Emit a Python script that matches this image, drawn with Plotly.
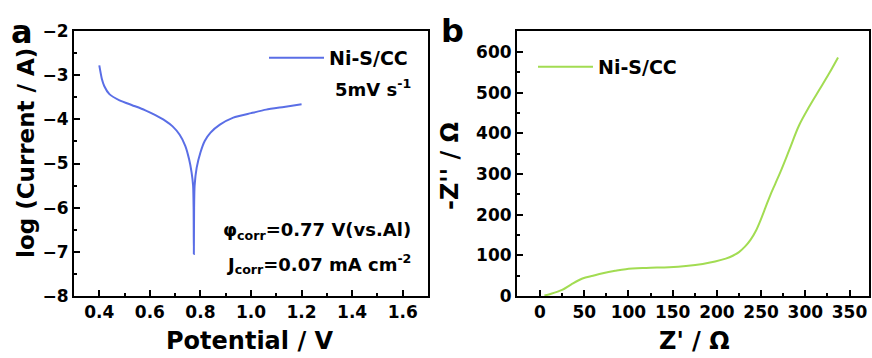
import plotly.graph_objects as go

W, H = 872, 358

# ---- data panel a (Tafel) ----
potential = [0.40, 0.41, 0.42, 0.44, 0.48, 0.53, 0.58, 0.62, 0.66, 0.69, 0.718,
             0.74, 0.755, 0.765, 0.771, 0.773, 0.774, 0.775, 0.777, 0.785, 0.80,
             0.817, 0.84, 0.877, 0.93, 1.00, 1.06, 1.13, 1.20]
log_current = [-2.78, -3.08, -3.25, -3.43, -3.57, -3.68, -3.79, -3.90, -4.03, -4.16, -4.35,
               -4.60, -4.90, -5.20, -5.50, -6.00, -7.05, -6.00, -5.50, -5.10, -4.75,
               -4.49, -4.30, -4.12, -3.96, -3.86, -3.78, -3.72, -3.66]

# ---- data panel b (Nyquist) ----
z_real = [5, 12, 25, 35, 48, 60, 71, 85, 97, 120, 146, 165, 184, 198, 210, 218,
          225, 232, 238, 244, 250, 255, 260, 266, 272, 282, 293, 305, 316, 327, 337]
z_imag = [1, 5, 15, 28, 43, 50, 56, 62, 66, 69, 71, 74, 79, 85, 92, 99,
          108, 122, 138, 160, 190, 218, 246, 276, 306, 360, 420, 468, 508, 548, 587]

series_name = "Ni-S/CC"
blue = "#5a6ee6"
green = "#a2dc52"
FONT = "DejaVu Sans"

def px(x):
    return x / W

def py(y):
    return 1 - y / H

fig = go.Figure()
fig.add_trace(go.Scatter(x=potential, y=log_current, mode="lines", name=series_name,
                         line=dict(color=blue, width=2, shape="spline", smoothing=0.6),
                         xaxis="x", yaxis="y", legend="legend", showlegend=True))
fig.add_trace(go.Scatter(x=z_real, y=z_imag, mode="lines", name=series_name,
                         line=dict(color=green, width=2, shape="spline", smoothing=1.0),
                         xaxis="x2", yaxis="y2", legend="legend2", showlegend=True))

tickfont = dict(family=FONT, size=17, color="black", weight="bold")
axcommon = dict(showline=True, linecolor="black", linewidth=2, mirror=True,
                ticks="inside", ticklen=6, tickwidth=2, tickcolor="black",
                showgrid=False, zeroline=False, tickfont=tickfont, automargin=False)

def minor(d):
    return dict(dtick=d, ticks="inside", ticklen=3, tickwidth=1.5, tickcolor="black", showgrid=False)

top, bottom = 31, 296
fig.update_layout(
    width=W, height=H, margin=dict(l=0, r=0, t=0, b=0, autoexpand=False),
    paper_bgcolor="white", plot_bgcolor="white", showlegend=True,
    xaxis=dict(domain=[px(74), px(428)], range=[0.3, 1.7], dtick=0.2, tick0=0.4,
               tickformat=".1f", anchor="y", minor=minor(0.1), **axcommon),
    yaxis=dict(domain=[py(bottom), py(top)], range=[-8, -2], dtick=1, anchor="x",
               minor=minor(0.5), **axcommon),
    xaxis2=dict(domain=[px(517), px(869)], range=[-26, 372], dtick=50, anchor="y2",
                minor=minor(25), **axcommon),
    yaxis2=dict(domain=[py(bottom), py(top)], range=[0, 652], dtick=100, anchor="x2",
                minor=minor(50), **axcommon),
    legend=dict(x=px(264), y=py(39), xanchor="left", yanchor="top", bgcolor="rgba(0,0,0,0)",
                font=dict(family=FONT, size=19, color="black", weight="bold"), itemwidth=55),
    legend2=dict(x=px(533), y=py(48), xanchor="left", yanchor="top", bgcolor="rgba(0,0,0,0)",
                 font=dict(family=FONT, size=19, color="black", weight="bold"), itemwidth=55),
)

def ann(text, x, y, size, xanchor="center", angle=0):
    fig.add_annotation(text=text, x=px(x), y=py(y), xref="paper", yref="paper",
                       showarrow=False, xanchor=xanchor, yanchor="middle", textangle=angle,
                       font=dict(family=FONT, size=size, color="black", weight="bold"))

ann("a", 22, 32, 32)
ann("b", 452, 31, 32)
ann("log (Current / A)", 26, 153, 23, angle=-90)
ann("Potential / V", 250, 341, 24)
ann("-Z'' / Ω", 450, 166, 24, angle=-90)
ann("Z' / Ω", 694, 341, 24)
ann("5mV s<sup>-1</sup>", 413, 88, 18, xanchor="right")
ann("φ<sub>corr</sub>=0.77 V(vs.Al)", 413, 231, 18, xanchor="right")
ann("J<sub>corr</sub>=0.07 mA cm<sup>-2</sup>", 413, 264, 18, xanchor="right")

fig.write_html("out.html")
